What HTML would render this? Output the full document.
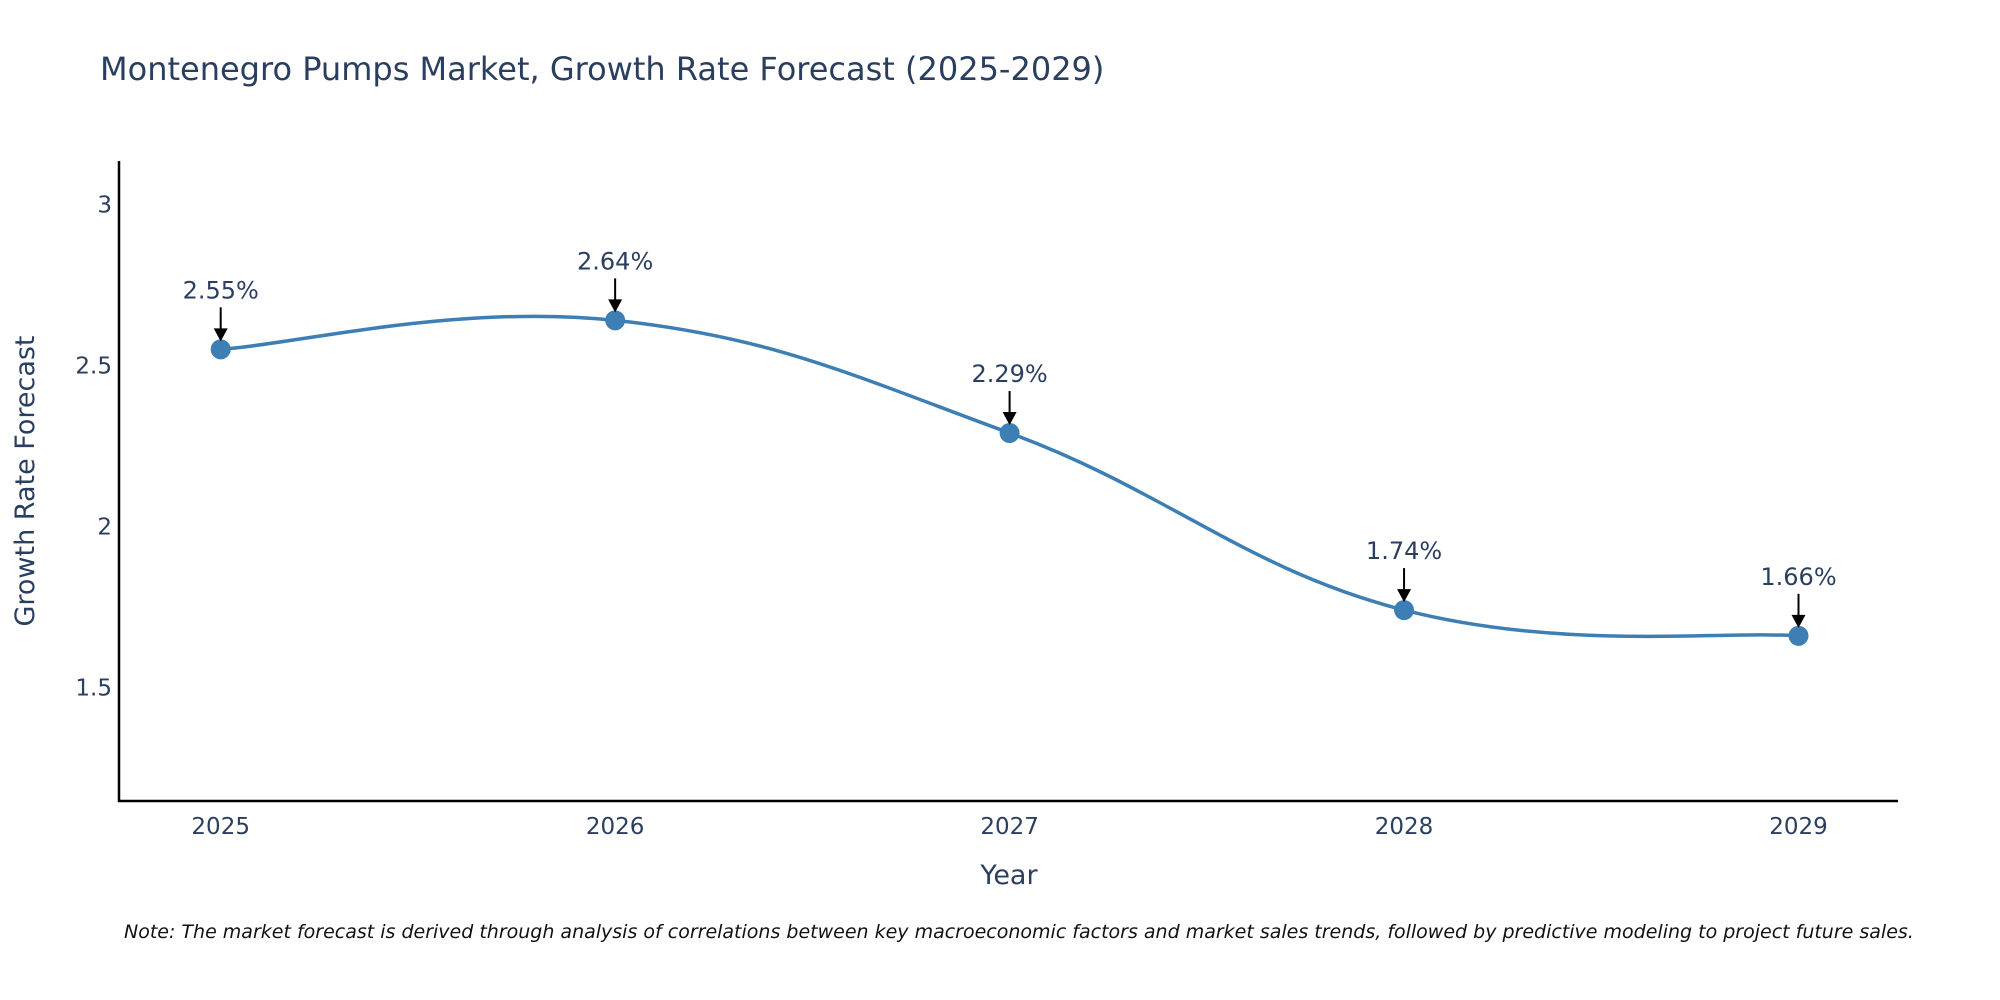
<!DOCTYPE html>
<html><head><meta charset="utf-8"><style>
html,body{margin:0;padding:0;background:#fff;width:2000px;height:1000px;overflow:hidden}
svg text{font-family:"DejaVu Sans","Liberation Sans",sans-serif}
</style></head><body>
<svg id="chart" width="2000" height="1000" xmlns="http://www.w3.org/2000/svg">
<text x="100" y="80" font-size="32" fill="#2a3f5f">Montenegro Pumps Market, Growth Rate Forecast (2025-2029)</text>
<g id="plot"></g>
<text x="1009" y="884" font-size="27" fill="#2a3f5f" text-anchor="middle">Year</text>
<text transform="translate(34,481) rotate(-90)" font-size="27" fill="#2a3f5f" text-anchor="middle">Growth Rate Forecast</text>
<text x="124" y="938" font-size="19" font-style="italic" fill="#111">Note: The market forecast is derived through analysis of correlations between key macroeconomic factors and market sales trends, followed by predictive modeling to project future sales.</text>
</svg>
<script>
const years = [2025, 2026, 2027, 2028, 2029];
const growth = [2.55, 2.64, 2.29, 1.74, 1.66];
const labels = ["2.55%", "2.64%", "2.29%", "1.74%", "1.66%"];
const yTicks = [1.5, 2, 2.5, 3];

const NS = "http://www.w3.org/2000/svg";
const g = document.getElementById('plot');
const X0 = 119, X1 = 1898, Ytop = 161, Ybot = 801;
const yMin = 1.147, yMax = 3.135;
function xs(v){ return 220.7 + (v - years[0]) * (1798.5 - 220.7) / (years[years.length-1] - years[0]); }
function ys(v){ return Ybot - (v - yMin) * (Ybot - Ytop) / (yMax - yMin); }
function mk(tag, attrs){ const e = document.createElementNS(NS, tag); for (const k in attrs) e.setAttribute(k, attrs[k]); g.appendChild(e); return e; }

yTicks.forEach(t => {
  const e = mk('text', {x: 112, y: ys(t) + 8, 'font-size': 23, fill: '#2a3f5f', 'text-anchor': 'end'});
  
  
  e.textContent = t;
});
years.forEach(yr => {
  const e = mk('text', {x: xs(yr), y: 834, 'font-size': 23, fill: '#2a3f5f', 'text-anchor': 'middle'});
  
  
  e.textContent = yr;
});
const ax = mk('path', {d: `M${X0},${Ytop} V${Ybot} H${X1}`, stroke: '#000', 'stroke-width': 2.5, fill: 'none'});



const pts = years.map((yr, i) => [xs(yr), ys(growth[i])]);
let d = `M${pts[0][0]},${pts[0][1]}`;
const s = 0.2;
for (let i = 0; i < pts.length - 1; i++) {
  const p0 = pts[Math.max(0, i-1)], p1 = pts[i], p2 = pts[i+1], p3 = pts[Math.min(pts.length-1, i+2)];
  const c1 = [p1[0] + (p2[0]-p0[0])*s, p1[1] + (p2[1]-p0[1])*s];
  const c2 = [p2[0] - (p3[0]-p1[0])*s, p2[1] - (p3[1]-p1[1])*s];
  d += ` C${c1[0]},${c1[1]} ${c2[0]},${c2[1]} ${p2[0]},${p2[1]}`;
}
const line = mk('path', {d: d, stroke: '#3d7fb4', 'stroke-width': 3.5, fill: 'none'});



pts.forEach((p, i) => {
  const c = mk('circle', {cx: p[0], cy: p[1], r: 10, fill: '#3d7fb4'});
  
  
  const a = mk('line', {x1: p[0], y1: p[1] - 42, x2: p[0], y2: p[1] - 20, stroke: '#000', 'stroke-width': 2});
  
  
  const h = mk('path', {d: `M${p[0]-7},${p[1]-21} L${p[0]+7},${p[1]-21} L${p[0]},${p[1]-8} Z`, fill: '#000'});
  
  
  const t = mk('text', {x: p[0], y: p[1] - 51, 'font-size': 24, fill: '#2a3f5f', 'text-anchor': 'middle'});
  
  
  t.textContent = labels[i];
});
</script>
</body></html>
